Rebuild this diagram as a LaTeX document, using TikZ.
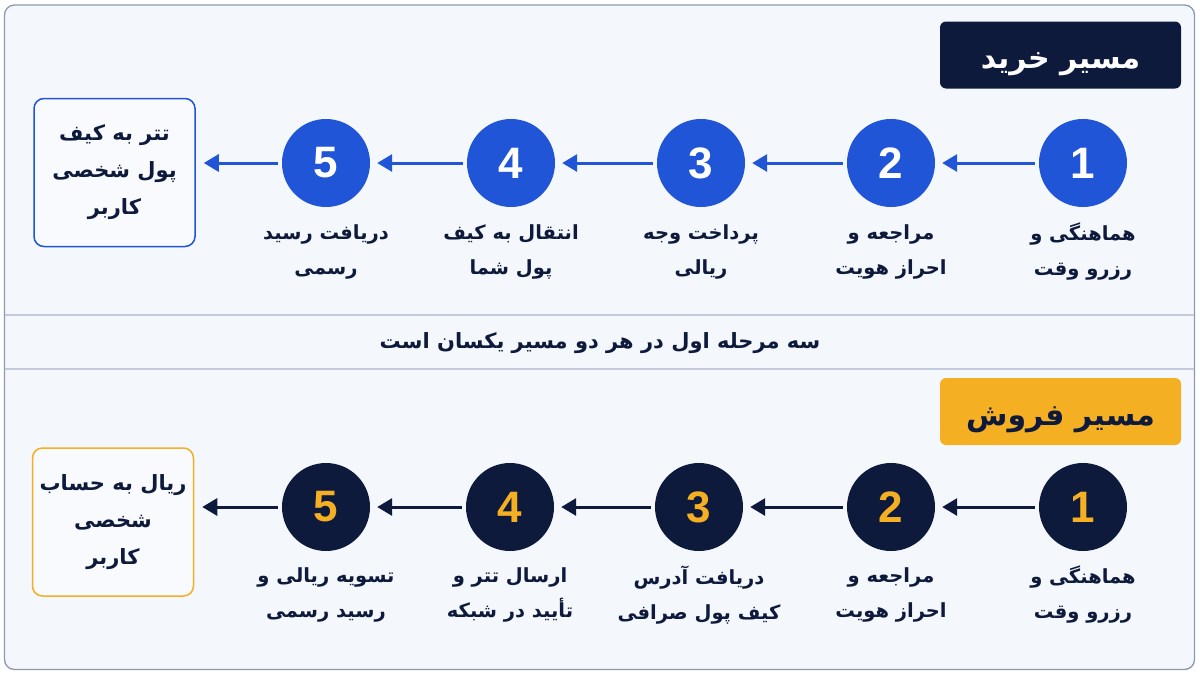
\documentclass[tikz,border=0pt]{standalone}
\usepackage{fontspec}
\setmainfont{DejaVu Sans}
\newfontfamily\fa[Script=Arabic]{DejaVu Sans}
\newfontfamily\numf{Liberation Sans}
\TeXXeTstate=1
\usetikzlibrary{arrows.meta}
\definecolor{bluec}{HTML}{1F55D6}
\definecolor{navy}{HTML}{0E1A3B}
\definecolor{orng}{HTML}{F5AF22}
\definecolor{bgc}{HTML}{F4F7FC}
\definecolor{framec}{HTML}{8E98B0}
\definecolor{bandline}{HTML}{C3CADB}
\newcommand\RL[1]{\beginR #1\endR}
\begin{document}
\begin{tikzpicture}[x=1pt,y=-1pt,
  titlebox/.style={rounded corners=6pt, minimum width=241pt, minimum height=67pt, inner sep=0pt},
  titletext/.style={font=\fa\bfseries\fontsize{30}{34}\selectfont, inner sep=0pt},
  circ/.style={circle, minimum size=88pt, inner sep=0pt, font=\numf\bfseries\fontsize{44}{44}\selectfont},
  lbl/.style={align=center, font=\fa\bfseries\fontsize{19.5}{35}\selectfont, text=navy},
  endbox/.style={rounded corners=10pt, line width=1.5pt, fill=white!40!bgc, minimum width=161pt,
    minimum height=148pt, align=center, inner sep=0pt, text=navy,
    font=\fa\bfseries\fontsize{21}{37}\selectfont},
  conn/.style={line width=3pt, -{Triangle[length=15pt,width=17pt]}, shorten <=4pt, shorten >=7pt}
]
\useasboundingbox (0,0) rectangle (1200,675);
\fill[white] (0,0) rectangle (1200,675);
\draw[framec, fill=bgc, rounded corners=10pt, line width=1.3pt] (4.5,5) rectangle (1194.5,669.5);
\draw[bandline, line width=1.2pt] (5.2,315) -- (1193.8,315) (5.2,369) -- (1193.8,369);

% ---------- buy path ----------
\node[titlebox, fill=navy] (t1) at (1060.5,55) {};
\node[titletext, text=white, yshift=-9pt] (t1txt) at (t1.center) {\RL{مسیر خرید}};
\foreach \n/\x in {1/1083,2/891,3/701,4/511,5/326}{
  \node[circ, fill=bluec, text=white] (a\n) at (\x,163) {\n};
}
\node[endbox, draw=bluec] (e1) at (114.5,172.5) {\RL{تتر به کیف}\\\RL{پول شخصی}\\\RL{کاربر}};
\foreach \i/\j in {1/2,2/3,3/4,4/5}{
  \draw[conn, bluec] (a\i) -- (a\j);
}
\draw[conn, bluec, shorten >=8pt] (a5) -- (a5 -| e1.east);
\node[lbl] (la1) at (1083,252) {\RL{هماهنگی و}\\\RL{رزرو وقت}};
\node[lbl] (la2) at (891,252) {\RL{مراجعه و}\\\RL{احراز هویت}};
\node[lbl] (la3) at (701,252) {\RL{پرداخت وجه}\\\RL{ریالی}};
\node[lbl] (la4) at (511,252) {\RL{انتقال به کیف}\\\RL{پول شما}};
\node[lbl] (la5) at (326,252) {\RL{دریافت رسید}\\\RL{رسمی}};

% ---------- middle band ----------
\node[font=\fa\bfseries\fontsize{21}{24}\selectfont, text=navy] (mid) at (600,343)
  {\RL{سه مرحله اول در هر دو مسیر یکسان است}};

% ---------- sell path ----------
\node[titlebox, fill=orng] (t2) at (1060.5,411.5) {};
\node[titletext, text=navy, yshift=-8pt] (t2txt) at (t2.center) {\RL{مسیر فروش}};
\foreach \n/\x in {1/1083,2/891,3/699,4/510,5/326}{
  \node[circ, fill=navy, text=orng] (b\n) at (\x,507) {\n};
}
\node[endbox, draw=orng] (e2) at (113,522) {\RL{ریال به حساب}\\\RL{شخصی}\\\RL{کاربر}};
\foreach \i/\j in {1/2,2/3,3/4,4/5}{
  \draw[conn, navy] (b\i) -- (b\j);
}
\draw[conn, navy, shorten >=8pt] (b5) -- (b5 -| e2.east);
\node[lbl] (lb1) at (1083,595) {\RL{هماهنگی و}\\\RL{رزرو وقت}};
\node[lbl] (lb2) at (891,595) {\RL{مراجعه و}\\\RL{احراز هویت}};
\node[lbl] (lb3) at (699,595) {\RL{دریافت آدرس}\\\RL{کیف پول صرافی}};
\node[lbl] (lb4) at (510,595) {\RL{ارسال تتر و}\\\RL{تأیید در شبکه}};
\node[lbl] (lb5) at (326,595) {\RL{تسویه ریالی و}\\\RL{رسید رسمی}};
\end{tikzpicture}
\end{document}
